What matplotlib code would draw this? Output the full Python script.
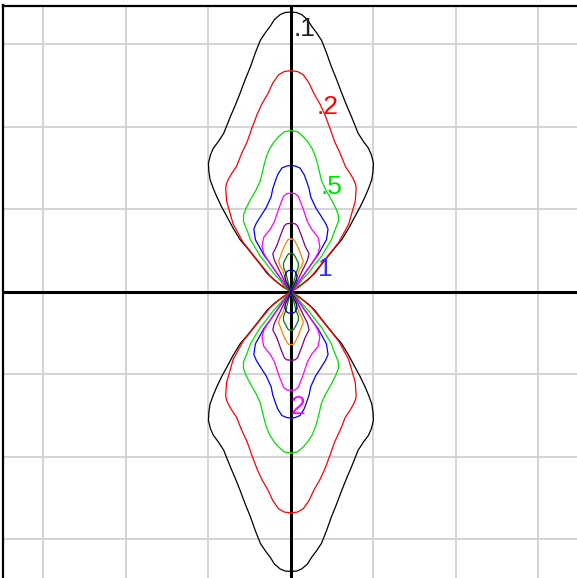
import numpy as np
import matplotlib
matplotlib.use("Agg")
import matplotlib.pyplot as plt

# contour lobes, upper-right quarter only (from the top of the lobe down to the origin)
# the picture is symmetric, so the other three quarters are mirrored
c01_x = [0, 0.07, 0.13, 0.20, 0.25, 0.31, 0.37, 0.43, 0.49, 0.555, 0.615, 0.675, 0.735, 0.815,
         0.88, 0.94, 0.975, 1.0, 0.995, 0.98, 0.94, 0.90, 0.84, 0.775, 0.70, 0.615, 0.53, 0.45, 0.37, 0.29, 0.20, 0.12, 0]
c01_y = [3.39, 3.385, 3.36, 3.30, 3.22, 3.14, 3.05, 2.90, 2.73, 2.57, 2.41, 2.26, 2.12, 1.92,
         1.82, 1.74, 1.66, 1.56, 1.46, 1.36, 1.25, 1.155, 1.03, 0.91, 0.77, 0.63, 0.53, 0.43, 0.33, 0.225, 0.14, 0.08, 0]

c02_x = [0, 0.08, 0.15, 0.22, 0.28, 0.35, 0.41, 0.47, 0.53, 0.60, 0.66, 0.72, 0.76, 0.785, 0.79, 0.78,
         0.74, 0.70, 0.64, 0.58, 0.50, 0.42, 0.34, 0.25, 0.17, 0.10, 0]
c02_y = [2.68, 2.67, 2.63, 2.53, 2.40, 2.28, 2.15, 1.99, 1.82, 1.67, 1.52, 1.43, 1.36, 1.30, 1.25, 1.10,
         0.96, 0.82, 0.71, 0.60, 0.50, 0.40, 0.30, 0.19, 0.12, 0.06, 0]

c05_x = [0, 0.08, 0.15, 0.21, 0.26, 0.30, 0.33, 0.37, 0.42, 0.50, 0.545, 0.575, 0.575, 0.53, 0.49,
         0.43, 0.37, 0.29, 0.21, 0.14, 0.08, 0]
c05_y = [1.955, 1.94, 1.88, 1.81, 1.73, 1.63, 1.52, 1.35, 1.24, 1.10, 1.01, 0.93, 0.85, 0.74, 0.63,
         0.53, 0.43, 0.33, 0.225, 0.15, 0.07, 0]

c1_x = [0, 0.05, 0.11, 0.16, 0.19, 0.22, 0.24, 0.30, 0.37, 0.42, 0.45, 0.43, 0.38, 0.33, 0.25, 0.17, 0.06, 0]
c1_y = [1.53, 1.525, 1.50, 1.42, 1.34, 1.25, 1.15, 1.02, 0.91, 0.83, 0.76, 0.63, 0.54, 0.45, 0.34, 0.225, 0.07, 0]

c2_x = [0, 0.05, 0.09, 0.12, 0.15, 0.20, 0.25, 0.33, 0.35, 0.33, 0.29, 0.23, 0.17, 0.06, 0]
c2_y = [1.195, 1.19, 1.155, 1.08, 1.0, 0.85, 0.76, 0.66, 0.55, 0.47, 0.40, 0.31, 0.225, 0.07, 0]

c5_x = [0, 0.05, 0.08, 0.10, 0.12, 0.17, 0.22, 0.20, 0.14, 0.05, 0]
c5_y = [0.83, 0.825, 0.80, 0.75, 0.70, 0.56, 0.46, 0.38, 0.26, 0.07, 0]

c10_x = [0, 0.03, 0.05, 0.09, 0.12, 0.15, 0.13, 0.10, 0.04, 0]
c10_y = [0.64, 0.635, 0.61, 0.53, 0.45, 0.37, 0.31, 0.26, 0.08, 0]

c20_x = [0, 0.03, 0.05, 0.09, 0.09, 0.06, 0.03, 0]
c20_y = [0.465, 0.46, 0.43, 0.35, 0.30, 0.22, 0.10, 0]

c50_x = [0, 0.03, 0.05, 0.075, 0.065, 0.04, 0.02, 0]
c50_y = [0.26, 0.258, 0.245, 0.19, 0.14, 0.09, 0.04, 0]

curve_colors = ["black", "#ff0000", "#00e000", "#0000ff", "#ff00ff",
                "#800080", "#ff8000", "#008000", "#0000a0"]

label_text = [".1", ".2", ".5", "1", "2"]
label_x = [0.165, 0.44, 0.49, 0.42, 0.085]
label_y = [3.19, 2.24, 1.27, 0.27, -1.40]
label_colors = ["#202020", "#ff0000", "#00e000", "#3030ff", "#ff00ff"]

curves = [(c01_x, c01_y), (c02_x, c02_y), (c05_x, c05_y), (c1_x, c1_y), (c2_x, c2_y),
          (c5_x, c5_y), (c10_x, c10_y), (c20_x, c20_y), (c50_x, c50_y)]

fig = plt.figure(figsize=(5.77, 5.78), dpi=100)
W, H = 577, 578
unit = 82.5  # px per data unit
x0, x1 = -3.49, 3.49
y0, y1 = -3.47, 3.47
left_px, top_px = 3, 5.5
ax = fig.add_axes([left_px / W, (H - top_px - (y1 - y0) * unit) / H,
                   (x1 - x0) * unit / W, (y1 - y0) * unit / H])
ax.set_xlim(x0, x1)
ax.set_ylim(y0, y1)

ax.set_xticks(np.arange(-3, 4))
ax.set_yticks(np.arange(-3, 4))
ax.tick_params(length=0, labelbottom=False, labelleft=False)
ax.grid(True, color="#d4d4d4", linewidth=1.4)
ax.set_axisbelow(True)
for side in ["left", "top"]:
    ax.spines[side].set_linewidth(1.6)
    ax.spines[side].set_color("black")
ax.spines["right"].set_visible(False)
ax.spines["bottom"].set_visible(False)

ax.axhline(0, color="black", linewidth=2.2, zorder=3)
ax.axvline(0, color="black", linewidth=2.2, zorder=3)

for (qx, qy), col in zip(curves, curve_colors):
    qx = np.array(qx)
    qy = np.array(qy)
    xs = np.concatenate([qx, -qx[::-1]])
    ys = np.concatenate([qy, qy[::-1]])
    ax.plot(xs, ys, color=col, linewidth=0.9, zorder=4)
    ax.plot(xs, -ys, color=col, linewidth=0.9, zorder=4)

for t, lx, ly, col in zip(label_text, label_x, label_y, label_colors):
    ax.text(lx, ly, t, color=col, fontsize=19, family="Liberation Sans",
            ha="center", va="center", zorder=5)

fig.savefig("out.png", dpi=100)
